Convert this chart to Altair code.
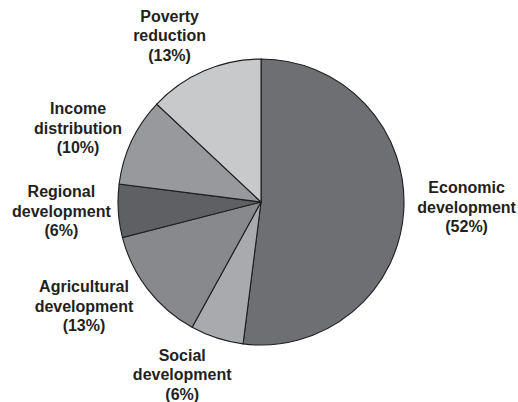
import altair as alt
import pandas as pd

categories = ["Economic development", "Social development", "Agricultural development",
              "Regional development", "Income distribution", "Poverty reduction"]
labels = ["Economic\ndevelopment\n(52%)", "Social\ndevelopment\n(6%)",
          "Agricultural\ndevelopment\n(13%)", "Regional\ndevelopment\n(6%)",
          "Income\ndistribution\n(10%)", "Poverty\nreduction\n(13%)"]
values = [52, 6, 13, 6, 10, 13]
colors = ["#6e6f73", "#a9aaad", "#88898d", "#5f6063", "#98999c", "#c8c9cb"]

df = pd.DataFrame({
    "category": categories,
    "label": labels,
    "value": values,
    "idx": list(range(len(categories))),
})

base = alt.Chart(df).encode(
    theta=alt.Theta("value:Q", stack=True),
    order=alt.Order("idx:O"),
)

pie = base.mark_arc(outerRadius=143, stroke="#1e1e1e", strokeWidth=1.1).encode(
    color=alt.Color("category:N", scale=alt.Scale(domain=categories, range=colors), legend=None)
)

# small label nudges (layout only), applied per category
nudges = {
    "Economic development": (6, -7),
    "Social development": (-17, -17),
    "Agricultural development": (-19, -18),
    "Regional development": (0, -3),
    "Income distribution": (-2, 12),
    "Poverty reduction": (-12, 18),
}
LH = 19.5

layers = [pie]
for cat in categories:
    ndx, ndy = nudges[cat]
    layers.append(
        base.mark_text(
            radius=200, font="Liberation Sans", fontWeight="bold", fontSize=16,
            lineBreak="\n", lineHeight=LH, align="center", baseline="middle",
            color="#231f20", dx=ndx, dy=ndy - LH,
        ).encode(
            text="label:N",
            opacity=alt.condition(alt.datum.category == cat, alt.value(1), alt.value(0)),
        )
    )

chart = alt.layer(*layers).properties(
    width=514, height=400,
    autosize=alt.AutoSizeParams(type="none"),
    padding={"left": 4, "top": 2, "right": 0, "bottom": 0},
).configure_view(stroke=None)

chart.save("out.html", embed_options={"renderer": "svg", "actions": False})
